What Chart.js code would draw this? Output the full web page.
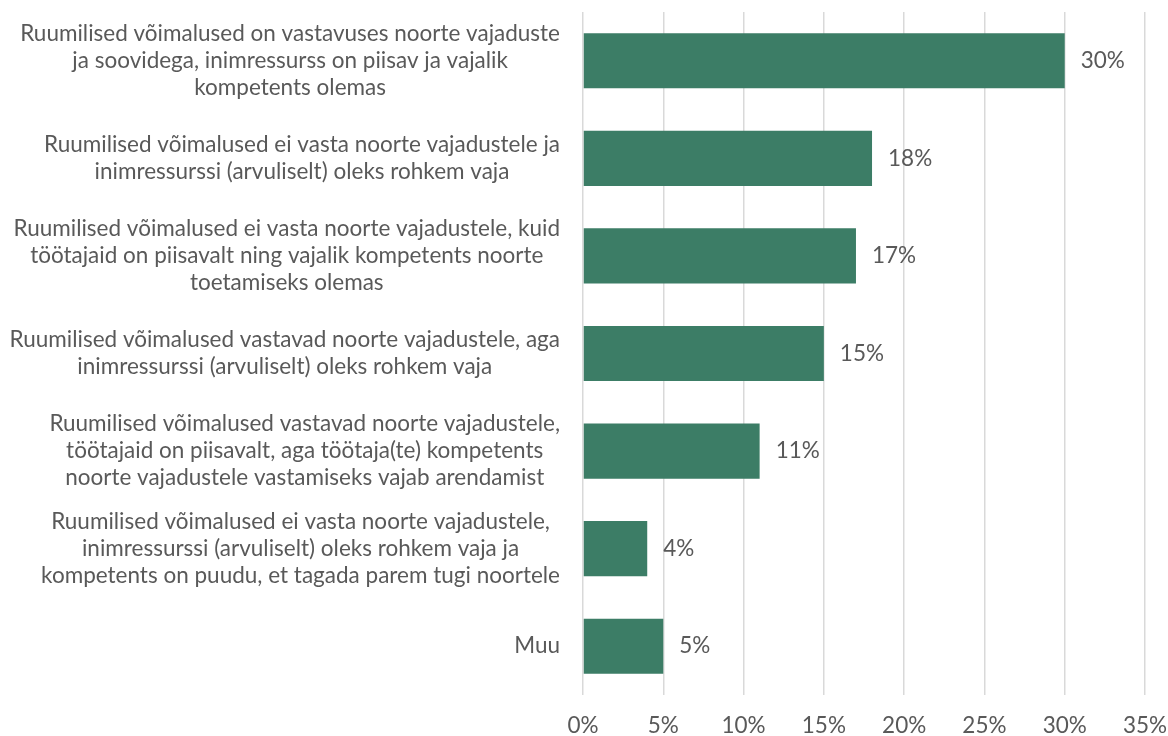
<!DOCTYPE html>
<html><head><meta charset="utf-8">
<script src="https://cdn.jsdelivr.net/npm/chart.js@4"></script>
<style>html,body{margin:0;padding:0;background:#fff}#wrap{width:1168px;height:736px}</style>
</head><body><div id="wrap"><canvas id="c" width="1168" height="736"></canvas></div>
<script>
const categories = [
  ["Ruumilised võimalused on vastavuses noorte vajaduste", "ja soovidega, inimressurss on piisav ja vajalik", "kompetents olemas"],
  ["Ruumilised võimalused ei vasta noorte vajadustele ja", "inimressurssi (arvuliselt) oleks rohkem vaja"],
  ["Ruumilised võimalused ei vasta noorte vajadustele, kuid", "töötajaid on piisavalt ning vajalik kompetents noorte", "toetamiseks olemas"],
  ["Ruumilised võimalused vastavad noorte vajadustele, aga", "inimressurssi (arvuliselt) oleks rohkem vaja"],
  ["Ruumilised võimalused vastavad noorte vajadustele,", "töötajaid on piisavalt, aga töötaja(te) kompetents", "noorte vajadustele vastamiseks vajab arendamist"],
  ["Ruumilised võimalused ei vasta noorte vajadustele,", "inimressurssi (arvuliselt) oleks rohkem vaja ja", "kompetents on puudu, et tagada parem tugi noortele"],
  ["Muu"]
];
const values = [30, 18, 17, 15, 11, 4, 5];
const xTicks = [0, 5, 10, 15, 20, 25, 30, 35];

const FONT = "Lato, 'Open Sans', sans-serif";
const FS = 22.5;
const TXT = '#595959';

const yLabelPlugin = {
  id: 'yLabels',
  afterDraw(chart) {
    const ctx = chart.ctx, ys = chart.scales.y;
    ctx.save();
    ctx.font = FS + "px " + FONT;
    ctx.fillStyle = TXT;
    ctx.textAlign = 'center';
    ctx.textBaseline = 'middle';
    const right = 560, lh = 27;
    categories.forEach((lines, i) => {
      const y = ys.getPixelForTick(i);
      let w = 0;
      lines.forEach(l => { w = Math.max(w, ctx.measureText(l).width); });
      const cx = right - w / 2;
      const y0 = y - (lines.length - 1) * lh / 2;
      lines.forEach((l, k) => ctx.fillText(l, cx, y0 + k * lh));
    });
    ctx.restore();
  }
};
const valueLabelPlugin = {
  id: 'valLabels',
  afterDatasetsDraw(chart) {
    const ctx = chart.ctx;
    const meta = chart.getDatasetMeta(0);
    ctx.save();
    ctx.font = FS + "px " + FONT;
    ctx.fillStyle = TXT;
    ctx.textAlign = 'left';
    ctx.textBaseline = 'middle';
    meta.data.forEach((bar, i) => {
      ctx.fillText(values[i] + '%', bar.x + 16, bar.y);
    });
    ctx.restore();
  }
};

new Chart(document.getElementById('c'), {
  type: 'bar',
  data: {
    labels: categories.map(c => c.join(' ')),
    datasets: [{ data: values, backgroundColor: '#3C7D66', barPercentage: 0.565, categoryPercentage: 1 }]
  },
  options: {
    indexAxis: 'y',
    responsive: false,
    animation: false,
    layout: { padding: { left: 583, right: 23, top: 12, bottom: 0 } },
    plugins: { legend: { display: false }, tooltip: { enabled: false } },
    scales: {
      x: {
        min: 0, max: 35,
        afterBuildTicks(s) { s.ticks = xTicks.map(v => ({ value: v })); },
        afterFit(s) { s.height = 41; s.paddingLeft = 0; s.paddingRight = 0; },
        ticks: { callback: v => v + '%', color: TXT, font: { family: FONT, size: FS }, padding: 17, maxRotation: 0 },
        grid: { color: '#d9d9d9', lineWidth: 1.5, drawTicks: false },
        border: { display: false }
      },
      y: { display: false }
    }
  },
  plugins: [yLabelPlugin, valueLabelPlugin]
});
</script></body></html>
